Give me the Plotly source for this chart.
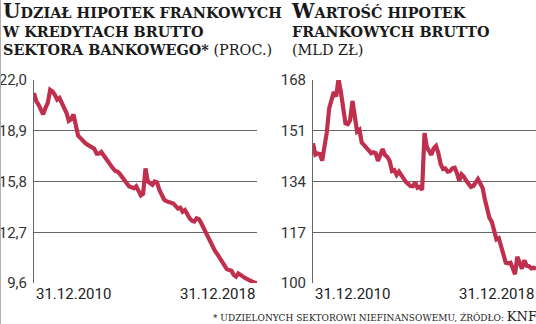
import pandas as pd
import plotly.graph_objects as go

# monthly observations, 31.12.2010 .. 31.12.2018
dates = pd.date_range("2010-12-31", "2018-12-31", freq="ME")

share_pct = [
    21.2, 20.7, 20.5, 20.2, 19.9, 20.3, 20.6, 21.4, 21.3, 21.1,
    20.8, 20.9, 20.6, 20.3, 20.0, 19.5, 19.6, 19.9, 19.2, 18.6,
    18.45, 18.25, 18.15, 18.05, 17.95, 17.85, 17.8, 17.5, 17.5, 17.6,
    17.4, 17.15, 16.95, 16.8, 16.6, 16.45, 16.4, 16.25, 16.05, 15.9,
    15.7, 15.5, 15.45, 15.38, 15.5, 15.18, 14.95, 15.05, 16.6, 15.8,
    15.7, 15.6, 15.8, 15.75, 15.3, 14.95, 14.7, 14.6, 14.56, 14.54,
    14.45, 14.3, 14.15, 14.2, 13.96, 14.06, 13.8, 13.55, 13.4, 13.35,
    13.55, 13.5, 13.25, 12.95, 12.7, 12.35, 12.0, 11.75, 11.55, 11.35,
    11.1, 10.9, 10.65, 10.45, 10.39, 10.35, 10.1, 9.99, 10.19, 10.05,
    9.99, 9.89, 9.8, 9.75, 9.68, 9.62, 9.6,
]

value_bn = [
    146.8, 143.0, 143.4, 143.2, 141.0, 145.7, 150.5, 158.5, 161.5, 164.0,
    162.5, 168.3, 164.0, 159.5, 153.5, 153.2, 154.5, 161.0, 156.3, 150.7,
    151.3, 147.0, 146.2, 145.2, 144.2, 143.5, 143.8, 143.5, 140.9, 143.5,
    144.9, 142.9, 142.2, 140.9, 137.5, 137.8, 136.2, 137.3, 136.0, 134.8,
    133.9, 133.2, 132.5, 132.4, 133.7, 131.9, 132.2, 131.2, 150.2, 145.5,
    144.0, 142.9, 145.1, 145.9, 143.5, 139.8, 138.2, 138.4, 137.3, 137.5,
    138.4, 138.6, 136.8, 134.2, 136.4, 135.6, 134.2, 133.0, 132.2, 132.5,
    134.0, 134.8, 133.3, 131.8, 128.1, 124.5, 121.8, 120.5, 117.0, 114.6,
    115.0, 112.0, 109.0, 106.8, 106.6, 106.8, 105.0, 102.9, 108.8, 106.8,
    104.8, 107.6, 105.8, 105.6, 104.9, 105.1, 104.8,
]

left_ticks = [9.6, 12.7, 15.8, 18.9, 22.0]
left_ticktext = ["9,6", "12,7", "15,8", "18,9", "22,0"]
right_ticks = [100, 117, 134, 151, 168]
right_ticktext = ["100", "117", "134", "151", "168"]
x_labels = ["31.12.2010", "31.12.2018"]

LINE = "#c0304e"
GRID = "#666666"
NARROW = "Liberation Sans Narrow, Roboto, sans-serif"
TICKFONT = dict(family=NARROW, size=15, color="#333333")
SERIF = "DejaVu Serif, Liberation Serif, serif"

fig = go.Figure()
fig.add_trace(go.Scatter(x=dates, y=share_pct, mode="lines", xaxis="x", yaxis="y",
                         line=dict(color=LINE, width=4.2), hoverinfo="skip"))
fig.add_trace(go.Scatter(x=dates, y=value_bn, mode="lines", xaxis="x2", yaxis="y2",
                         line=dict(color=LINE, width=4.2), hoverinfo="skip"))

xcommon = dict(type="date", range=[dates[0], dates[-1]], showticklabels=False,
               showgrid=False, zeroline=False, ticks="", showline=False)
ycommon = dict(showgrid=True, gridcolor=GRID, gridwidth=1, zeroline=False,
               showline=True, linecolor=GRID, linewidth=1, ticks="",
               tickfont=TICKFONT, ticklabelstandoff=3)

fig.update_layout(
    width=536, height=324,
    margin=dict(l=0, r=0, t=80, b=41),
    paper_bgcolor="white", plot_bgcolor="white",
    showlegend=False,
    xaxis=dict(domain=[34 / 536, 257 / 536], **xcommon),
    xaxis2=dict(domain=[313 / 536, 1.0], **xcommon),
    yaxis=dict(anchor="x", range=[9.6, 22.0], tickvals=left_ticks, ticktext=left_ticktext, **ycommon),
    yaxis2=dict(anchor="x2", range=[100, 168], tickvals=right_ticks, ticktext=right_ticktext, **ycommon),
)

# date labels under each panel
for xa in ["x", "x2"]:
    fig.add_annotation(xref=xa, yref="paper", x=dates[0], y=-0.055, text=x_labels[0],
                       showarrow=False, xanchor="left", yanchor="middle",
                       font=dict(family=NARROW, size=15, color="#222"))
    fig.add_annotation(xref=xa, yref="paper", x=dates[-1], y=-0.055, text=x_labels[1],
                       showarrow=False, xanchor="right", yanchor="middle",
                       font=dict(family=NARROW, size=15, color="#222"))

# titles
title_left = ('<b><span style="font-size:20px">U</span>DZIAŁ HIPOTEK FRANKOWYCH<br>'
              'W KREDYTACH BRUTTO<br>SEKTORA BANKOWEGO*</b> (PROC.)')
title_right = ('<b><span style="font-size:20px">W</span>ARTOŚĆ HIPOTEK<br>'
               'FRANKOWYCH BRUTTO</b><br>(MLD ZŁ)')
fig.add_annotation(xref="paper", yref="paper", x=0 / 536, y=(283 + 3) / 203, text=title_left,
                   showarrow=False, xanchor="left", yanchor="top", align="left",
                   font=dict(family=SERIF, size=14.4, color="#1a1a1a"))
fig.add_annotation(xref="paper", yref="paper", x=289 / 536, y=(283 + 3) / 203, text=title_right,
                   showarrow=False, xanchor="left", yanchor="top", align="left",
                   font=dict(family=SERIF, size=14.4, color="#1a1a1a"))

# footnote
fig.add_annotation(xref="paper", yref="paper", x=539 / 536, y=(283 - 316) / 203,
                   text='* UDZIELONYCH SEKTOROWI NIEFINANSOWEMU, ŹRÓDŁO: <span style="font-size:13px">KNF</span>',
                   showarrow=False, xanchor="right", yanchor="middle",
                   font=dict(family=SERIF, size=9, color="#222"))

# thin frame line at left edge
fig.add_shape(type="line", xref="paper", yref="paper", x0=0.5 / 536, x1=0.5 / 536,
              y0=-41 / 203, y1=(283) / 203, line=dict(color="#b0b0b0", width=1))

fig.write_html("out.html")
